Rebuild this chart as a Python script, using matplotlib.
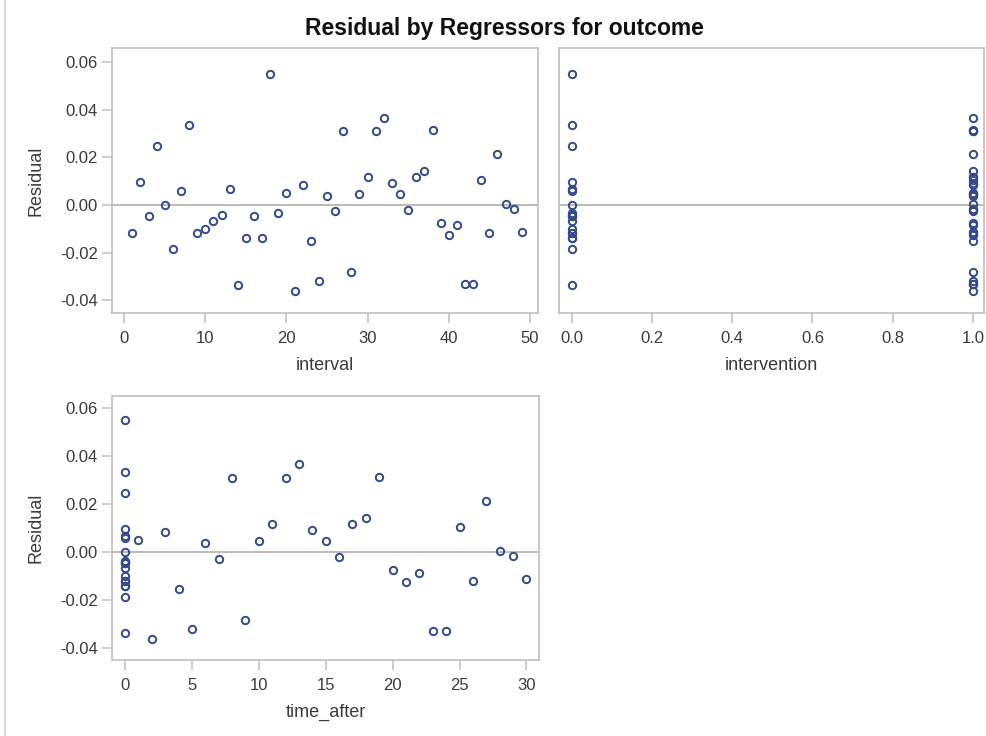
import matplotlib
matplotlib.use("Agg")
import matplotlib.pyplot as plt
from matplotlib.lines import Line2D

plt.rcParams['font.family'] = ['Liberation Sans', 'DejaVu Sans']

# data
interval = [1, 2, 3, 4, 5, 6, 7, 8, 9, 10, 11, 12, 13, 14, 15, 16, 17, 18, 19,
            20, 21, 22, 23, 24, 25, 26, 27, 28, 29, 30, 31, 32, 33, 34, 35, 36, 37, 38, 39,
            40, 41, 42, 43, 44, 45, 46, 47, 48, 49]
intervention = [0, 0, 0, 0, 0, 0, 0, 0, 0, 0, 0, 0, 0, 0, 0, 0, 0, 0, 0,
                1, 1, 1, 1, 1, 1, 1, 1, 1, 1, 1, 1, 1, 1, 1, 1, 1, 1, 1, 1,
                1, 1, 1, 1, 1, 1, 1, 1, 1, 1]
time_after = [0, 0, 0, 0, 0, 0, 0, 0, 0, 0, 0, 0, 0, 0, 0, 0, 0, 0, 0,
              1, 2, 3, 4, 5, 6, 7, 8, 9, 10, 11, 12, 13, 14, 15, 16, 17, 18, 19, 20,
              21, 22, 23, 24, 25, 26, 27, 28, 29, 30]
residual = [-0.0119, 0.0098, -0.0046, 0.0248, 0.0000, -0.0186, 0.0059, 0.0334, -0.0119, -0.0101,
            -0.0067, -0.0041, 0.0066, -0.0336, -0.0140, -0.0046, -0.0140, 0.0550, -0.0035,
            0.0052, -0.0362, 0.0084, -0.0152, -0.0320, 0.0039, -0.0027, 0.0309, -0.0283, 0.0045,
            0.0117, 0.0309, 0.0366, 0.0091, 0.0045, -0.0021, 0.0117, 0.0143, 0.0315, -0.0074,
            -0.0126, -0.0085, -0.0330, -0.0330, 0.0104, -0.0119, 0.0215, 0.0005, -0.0015, -0.0112]

W, H = 986, 736
fig = plt.figure(figsize=(W / 100, H / 100), dpi=100)

def box(l, t, r, b):
    return [l / W, 1 - b / H, (r - l) / W, (b - t) / H]

mark_col = '#34498a'
frame_col = '#c4c4c4'
text_col = '#3a3a3a'

def panel(rect, x, xlabel, xlim, xticks, xfmt, ylim, show_ylabel=True, show_yticks=True):
    ax = fig.add_axes(rect)
    ax.axhline(0, color='#b4b4b4', lw=1.3, zorder=1)
    ax.plot(x, residual, 'o', ms=5.3, mfc='none', mec=mark_col, mew=1.4, zorder=2)
    ax.set_xlim(*xlim)
    ax.set_ylim(*ylim)
    ax.set_xticks(xticks)
    ax.set_xticklabels([xfmt.format(v) for v in xticks])
    ax.set_yticks([-0.04, -0.02, 0.0, 0.02, 0.04, 0.06])
    ax.set_yticklabels(['-0.04', '-0.02', '0.00', '0.02', '0.04', '0.06'])
    for s in ax.spines.values():
        s.set_color(frame_col)
        s.set_linewidth(1.3)
    ax.tick_params(colors=frame_col, labelcolor=text_col, labelsize=12, length=7, width=1.2)
    ax.tick_params(axis='x', pad=6)
    ax.tick_params(axis='y', pad=3)
    if not show_yticks:
        ax.tick_params(axis='y', left=False, labelleft=False)
    ax.set_xlabel(xlabel, fontsize=13, color=text_col, labelpad=8)
    if show_ylabel:
        ax.set_ylabel('Residual', fontsize=13, color=text_col, labelpad=11)
    return ax

panel(box(112, 48, 538, 313), interval, 'interval', (-1.5, 51),
      [0, 10, 20, 30, 40, 50], '{:d}', (-0.0453, 0.0659))
panel(box(559, 48, 984, 313), intervention, 'intervention', (-0.0316, 1.0274),
      [0.0, 0.2, 0.4, 0.6, 0.8, 1.0], '{:.1f}', (-0.0453, 0.0659),
      show_ylabel=False, show_yticks=False)
panel(box(112, 396, 539, 660), time_after, 'time_after', (-0.97, 30.94),
      [0, 5, 10, 15, 20, 25, 30], '{:d}', (-0.0449, 0.0651))

fig.text(504 / W, 1 - 28 / H, 'Residual by Regressors for outcome', ha='center', va='center',
         fontsize=16.5, fontweight='bold', color='#111111')

# screenshot border on the left
fig.add_artist(Line2D([4.5 / W, 4.5 / W], [0, 1], color='#d0d0d0', lw=1.2))

fig.savefig('out.png', dpi=100)
